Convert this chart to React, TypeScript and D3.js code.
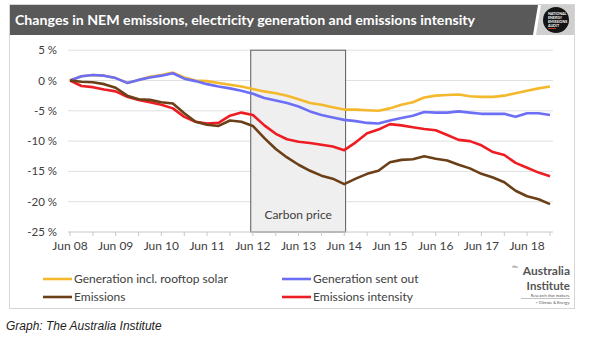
import React, { useEffect, useRef } from 'react'
import * as d3 from 'd3'

const months = [
  '2008-06','2008-09','2008-12','2009-03','2009-06','2009-09','2009-12','2010-03','2010-06','2010-09','2010-12',
  '2011-03','2011-06','2011-09','2011-12','2012-03','2012-06','2012-09','2012-12','2013-03','2013-06','2013-09',
  '2013-12','2014-03','2014-06','2014-09','2014-12','2015-03','2015-06','2015-09','2015-12','2016-03','2016-06',
  '2016-09','2016-12','2017-03','2017-06','2017-09','2017-12','2018-03','2018-06','2018-09','2018-12'
]

const genRooftop = [
  0, 0.7, 0.9, 0.8, 0.4, -0.4, 0.1, 0.6, 0.9, 1.3, 0.5,
  0.0, -0.1, -0.4, -0.7, -1.0, -1.4, -1.8, -2.1, -2.5, -3.1, -3.7,
  -4.0, -4.4, -4.8, -4.8, -4.9, -5.0, -4.6, -4.0, -3.6, -2.8, -2.5,
  -2.4, -2.3, -2.6, -2.7, -2.7, -2.5, -2.1, -1.7, -1.3, -1.0
]
const genSentOut = [
  0, 0.7, 0.9, 0.8, 0.4, -0.4, 0.1, 0.5, 0.8, 1.2, 0.3,
  -0.1, -0.6, -1.0, -1.3, -1.7, -2.2, -2.9, -3.3, -3.7, -4.3, -5.1,
  -5.7, -6.1, -6.5, -6.7, -7.0, -7.1, -6.6, -6.2, -5.8, -5.2, -5.3,
  -5.3, -5.1, -5.3, -5.5, -5.5, -5.5, -6.0, -5.4, -5.4, -5.7
]
const emissions = [
  0, -0.2, -0.3, -0.6, -1.2, -2.5, -3.1, -3.2, -3.6, -3.8, -5.4,
  -6.8, -7.3, -7.5, -6.6, -6.8, -7.5, -9.5, -11.3, -12.7, -13.9, -14.9,
  -15.7, -16.2, -17.1, -16.2, -15.4, -14.9, -13.5, -13.1, -13.0, -12.5, -12.9,
  -13.2, -13.9, -14.5, -15.4, -16.0, -16.8, -18.2, -19.1, -19.6, -20.4
]
const intensity = [
  0, -0.9, -1.1, -1.5, -1.8, -2.7, -3.2, -3.6, -4.0, -4.6, -6.0,
  -6.8, -7.1, -7.0, -5.8, -5.3, -5.7, -7.4, -8.8, -9.7, -10.1, -10.3,
  -10.6, -10.9, -11.5, -10.2, -8.7, -8.1, -7.2, -7.4, -7.7, -8.0, -8.2,
  -9.0, -9.8, -10.0, -10.7, -11.8, -12.3, -13.6, -14.4, -15.2, -15.8
]

const yTicks = [5, 0, -5, -10, -15, -20, -25]
const xLabels = ['Jun 08','Jun 09','Jun 10','Jun 11','Jun 12','Jun 13','Jun 14','Jun 15','Jun 16','Jun 17','Jun 18']
const carbonPrice = ['2012-05-15', '2014-06-12']

const seriesNames = ['Generation incl. rooftop solar', 'Generation sent out', 'Emissions', 'Emissions intensity']
const seriesColors = ['#f4b82c', '#6c6ff5', '#6b3f17', '#ee1d24']

export default function App() {
  const ref = useRef<SVGSVGElement>(null)

  useEffect(() => {
    const svg = d3.select(ref.current)
    svg.selectAll('*').remove()
    const font = 'Lato, "Open Sans", sans-serif'
    const parseM = d3.timeParse('%Y-%m')
    const parseD = d3.timeParse('%Y-%m-%d')
    const dates = months.map(m => parseM(m) as Date)

    const x = d3.scaleTime().domain([dates[0], dates[dates.length - 1]]).range([70, 550])
    const y = d3.scaleLinear().domain([-25, 5]).range([232, 50.2])

    // frame + header
    svg.append('rect').attr('x', 9.5).attr('y', 4.5).attr('width', 565).attr('height', 304)
      .attr('fill', '#fff').attr('stroke', '#d6d6d6')
    svg.append('path').attr('d', 'M10,5 H538 L533,35 H10 Z').attr('fill', '#595959')
    svg.append('path').attr('d', 'M541,5 H574 V35 H536 Z').attr('fill', '#cfcfcf')
    svg.append('text').attr('x', 15).attr('y', 25).attr('fill', '#fff')
      .attr('font-family', font).attr('font-weight', 700).attr('font-size', 14)
      .attr('textLength', 460).attr('lengthAdjust', 'spacingAndGlyphs')
      .text('Changes in NEM emissions, electricity generation and emissions intensity')
    svg.append('circle').attr('cx', 556).attr('cy', 20).attr('r', 13).attr('fill', '#141414')
    ;['NATIONAL', 'ENERGY', 'EMISSIONS', 'AUDIT'].forEach((t, i) => {
      svg.append('text').attr('x', 548).attr('y', 15 + i * 4).attr('fill', '#fff')
        .attr('font-family', font).attr('font-weight', 700).attr('font-size', 3.6).text(t)
    })
    svg.append('line').attr('x1', 548).attr('x2', 556).attr('y1', 28.5).attr('y2', 28.5)
      .attr('stroke', '#e04a1f').attr('stroke-width', 0.8)

    // gridlines
    svg.append('g').selectAll('line').data(yTicks.filter(d => d > -25)).enter().append('line')
      .attr('x1', 68).attr('x2', 553).attr('y1', d => y(d)).attr('y2', d => y(d))
      .attr('stroke', '#e0e0e0').attr('stroke-width', 1)

    // carbon price box
    const c0 = x(parseD(carbonPrice[0]) as Date), c1 = x(parseD(carbonPrice[1]) as Date)
    svg.append('rect').attr('x', c0).attr('y', y(5)).attr('width', c1 - c0).attr('height', y(-25) - y(5))
      .attr('fill', '#efefef').attr('stroke', '#5a5a5a').attr('stroke-width', 1)
    svg.append('text').attr('x', (c0 + c1) / 2).attr('y', 219).attr('text-anchor', 'middle')
      .attr('font-family', font).attr('font-size', 12).attr('fill', '#404040').text('Carbon price')

    // y labels
    svg.append('g').selectAll('text').data(yTicks).enter().append('text')
      .attr('x', 57).attr('y', d => y(d) + 4).attr('text-anchor', 'end')
      .attr('font-family', font).attr('font-size', 11.5).attr('fill', '#404040')
      .text(d => `${d} %`)

    // x axis
    const axisY = y(-25)
    svg.append('line').attr('x1', 68).attr('x2', 553).attr('y1', axisY).attr('y2', axisY)
      .attr('stroke', '#c8c8c8')
    const ticks = d3.timeMonth.range(dates[0], d3.timeMonth.offset(dates[dates.length - 1], 1), 6)
    svg.append('g').selectAll('line').data(ticks).enter().append('line')
      .attr('x1', d => x(d)).attr('x2', d => x(d)).attr('y1', axisY).attr('y2', axisY + 4)
      .attr('stroke', '#c8c8c8')
    svg.append('g').selectAll('text').data(xLabels).enter().append('text')
      .attr('x', (d, i) => x(ticks[i * 2])).attr('y', 250).attr('text-anchor', 'middle')
      .attr('font-family', font).attr('font-size', 12).attr('fill', '#404040')
      .text(d => d)

    // lines
    const line = d3.line<number>().x((d, i) => x(dates[i])).y(d => y(d)).curve(d3.curveLinear)
    const all = [genRooftop, genSentOut, intensity, emissions]
    const cols = [seriesColors[0], seriesColors[1], seriesColors[3], seriesColors[2]]
    all.forEach((s, i) => {
      svg.append('path').attr('d', line(s)).attr('fill', 'none')
        .attr('stroke', cols[i]).attr('stroke-width', 2.6).attr('stroke-linejoin', 'round')
    })

    // legend
    const lx = [43, 282], ly = [279, 297]
    seriesNames.forEach((n, i) => {
      const cx = lx[i % 2], cy = ly[Math.floor(i / 2)]
      svg.append('line').attr('x1', cx).attr('x2', cx + 29).attr('y1', cy).attr('y2', cy)
        .attr('stroke', seriesColors[i]).attr('stroke-width', 2.6)
      svg.append('text').attr('x', cx + 31).attr('y', cy + 4.3)
        .attr('font-family', font).attr('font-size', 12).attr('fill', '#404040').text(n)
    })

    // the Australia Institute logo
    const lg = svg.append('g').attr('font-family', font).attr('fill', '#555').attr('text-anchor', 'end')
    lg.append('text').attr('x', 570).attr('y', 275).attr('font-weight', 700).attr('font-size', 12).text('Australia')
    lg.append('text').attr('x', 518).attr('y', 268).attr('font-size', 4).text('the')
    lg.append('text').attr('x', 570).attr('y', 289.5).attr('font-weight', 700).attr('font-size', 11.5).text('Institute')
    lg.append('text').attr('x', 570).attr('y', 296.5).attr('font-size', 4).text('Research that matters.')
    lg.append('line').attr('x1', 521).attr('x2', 570).attr('y1', 298.5).attr('y2', 298.5).attr('stroke', '#999').attr('stroke-width', 0.6)
    lg.append('text').attr('x', 570).attr('y', 304).attr('font-size', 4).text('> Climate & Energy.')

    // caption
    svg.append('text').attr('x', 6).attr('y', 330).attr('font-family', '"Liberation Sans", Arial, sans-serif')
      .attr('font-style', 'italic').attr('font-size', 12).attr('fill', '#222')
      .text('Graph: The Australia Institute')
  }, [])

  return (
    <div>
      <svg ref={ref} width={600} height={352} style={{ position: 'absolute', left: 0, top: 0, background: '#fff' }} />
    </div>
  )
}
